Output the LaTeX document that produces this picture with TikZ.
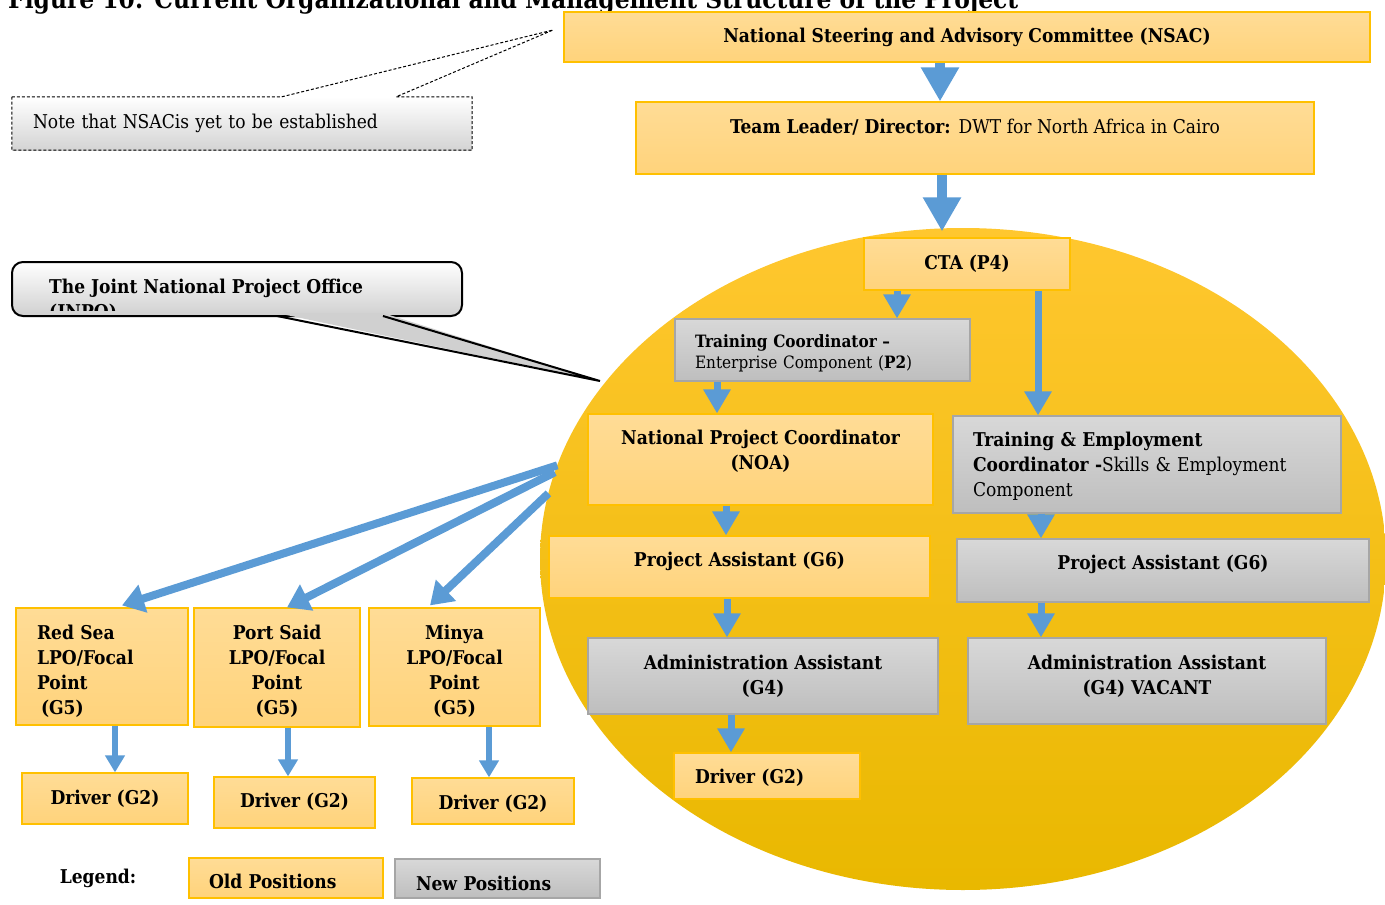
\documentclass[tikz,border=0pt]{standalone}
\usepackage{fontspec}
\setmainfont{DejaVu Serif Condensed}
\usetikzlibrary{arrows.meta,shapes.geometric}

\definecolor{oldtop}{HTML}{FFDC96}
\definecolor{oldbottom}{HTML}{FFD37B}
\definecolor{oldborder}{HTML}{FFC000}
\definecolor{newtop}{HTML}{D8D8D8}
\definecolor{newbottom}{HTML}{BEBEBE}
\definecolor{newborder}{HTML}{A6A6A6}
\definecolor{flowblue}{HTML}{5B9BD5}
\definecolor{areatop}{HTML}{FFC72F}
\definecolor{areamid}{HTML}{FBC400}
\definecolor{areabottom}{HTML}{E9B800}
\definecolor{calloutgray}{HTML}{D0D0D0}

\newcommand\orgfont{\fontsize{19}{25}\selectfont\bfseries}
\newcommand\smallorgfont{\fontsize{17}{21}\selectfont}
\newcommand\notefont{\fontsize{19}{22}\selectfont}
\newcommand\titlefont{\fontsize{26}{30}\selectfont\bfseries}
% invisible struts to move a block of lines down (topgap) or up (bottomgap)
\newcommand\topgap[1]{\rule{0pt}{#1}}
\newcommand\bottomgap[1]{\rule[-#1]{0pt}{#1}}

\tikzset{
  oldpos/.style={draw=oldborder, line width=1.2pt, top color=oldtop, bottom color=oldbottom,
    inner sep=0pt, font=\orgfont, align=center},
  newpos/.style={draw=newborder, line width=1.2pt, top color=newtop, bottom color=newbottom,
    inner sep=0pt, font=\orgfont, align=center},
  boxsize/.style 2 args={minimum width=#1, minimum height=#2},
  oneline/.style={text height=#1, text depth=0pt}, oneline/.default=10pt,
  raised/.style={text height=0pt, text depth=#1},
  padleft/.style 2 args={align=left, inner xsep=#1, text width=#2},
  flow/.style={draw=flowblue, line width=7pt, -{Triangle[length=24pt,width=26pt]}},
  bigflow/.style={draw=flowblue, line width=10pt, -{Triangle[length=34pt,width=36pt]}},
  sideflow/.style={draw=flowblue, line width=8pt, -{Triangle[length=22pt,width=28pt]}},
  dropflow/.style={draw=flowblue, line width=5.5pt, -{Triangle[length=17pt,width=19pt]}},
  jnpoarea/.style={ellipse, minimum width=846pt, minimum height=662pt, inner sep=0pt, outer sep=0pt,
    top color=areatop, middle color=areamid, bottom color=areabottom},
}

\begin{document}
\begin{tikzpicture}[x=1pt,y=-1pt]
\clip (0,0) rectangle (1385,905);

\node[anchor=base west, inner sep=0pt, font=\titlefont] (title) at (8,8)
  {Figure 10: Current Organizational and Management Structure of the Project};

% the project office area
\node[jnpoarea] (jnpo) at (963,559) {};

% note on the steering committee
\node[top color=white, bottom color=black!17, boxsize={460pt}{53pt}, padleft={21pt}{418pt},
  inner ysep=0pt, font=\notefont, oneline=9pt] (note) at (242,123.5) {Note that NSACis yet to be established};
\coordinate (notetip) at (553,30);
\draw[dash pattern=on 3pt off 2pt, line width=1pt] (note.north west) -- ++(270,0) -- (notetip)
  -- ([xshift=-76pt]note.north east) -- (note.north east) -- (note.south east) -- (note.south west) -- cycle;

% callout for the project office
\node[draw, line width=2pt, rounded corners=11pt, top color=white, bottom color=calloutgray,
  boxsize={450pt}{54pt}] (office) at (237,289) {};
\coordinate (officetip) at (600,381);
\fill[calloutgray] (277,313) -- (officetip) -- (383,313) -- cycle;
\draw[line width=2pt] (277,316) -- (officetip) -- (383,316);
\begin{scope}
  \clip (office.north west) rectangle ([yshift=7pt]office.south east);
  \node[anchor=north west, inner sep=0pt, font=\orgfont, align=left] (officetext) at (49,279)
    {The Joint National Project Office\\(JNPO)};
\end{scope}

% top of the structure
\node[oldpos, boxsize={806pt}{50pt}, oneline] (nsac) at (967,37) {National Steering and Advisory Committee (NSAC)};
\node[oldpos, boxsize={678pt}{72pt}, raised=10pt] (leader) at (975,138)
  {Team Leader/ Director: \mdseries DWT for North Africa in Cairo};
\node[oldpos, boxsize={206pt}{52pt}, oneline] (cta) at (967,264) {CTA (P4)};

% enterprise component
\node[newpos, boxsize={295pt}{62pt}, padleft={20pt}{255pt}, font=\smallorgfont] (trainco) at (822.5,350)
  {\topgap{20pt}\textbf{Training Coordinator –}\\Enterprise Component (\textbf{P2})};
\node[oldpos, boxsize={345pt}{91pt}] (npc) at (760.5,459.5) {National Project Coordinator\\(NOA)\bottomgap{20pt}};
\node[oldpos, boxsize={381pt}{62pt}, raised=2pt] (assistl) at (739.5,567) {Project Assistant (G6)};
\node[newpos, boxsize={350pt}{76pt}] (adminl) at (763,676) {Administration Assistant\\(G4)};
\node[oldpos, boxsize={186pt}{46pt}, padleft={21pt}{144pt}, oneline=14pt] (driverc) at (767,776) {Driver (G2)};

% skills and employment component
\node[newpos, boxsize={388pt}{97pt}, padleft={20pt}{348pt}] (employco) at (1147,464.5)
  {\topgap{18pt}Training \& Employment\\Coordinator -\mdseries Skills \& Employment\\Component};
\node[newpos, boxsize={412pt}{63pt}, raised=2pt] (assistr) at (1163,570.5) {Project Assistant (G6)};
\node[newpos, boxsize={358pt}{86pt}] (adminr) at (1147,681) {Administration Assistant\\(G4) VACANT\bottomgap{13pt}};

% local project offices
\node[oldpos, boxsize={172pt}{117pt}, padleft={21pt}{130pt}] (redsea) at (102,666.5)
  {\topgap{24pt}Red Sea\\LPO/Focal\\Point\\\hspace{4pt}(G5)};
\node[oldpos, boxsize={166pt}{119pt}] (portsaid) at (277,667.5) {\topgap{22pt}Port Said\\LPO/Focal\\Point\\(G5)};
\node[oldpos, boxsize={171pt}{118pt}] (minya) at (454.5,667) {\topgap{23pt}Minya\\LPO/Focal\\Point\\(G5)};
\node[oldpos, boxsize={166pt}{51pt}, oneline=11pt] (driver1) at (105,798.5) {Driver (G2)};
\node[oldpos, boxsize={161pt}{51pt}, oneline=9pt] (driver2) at (294.5,802.5) {Driver (G2)};
\node[oldpos, boxsize={162pt}{46pt}, oneline=16pt] (driver3) at (493,801) {Driver (G2)};

% legend
\node[font=\orgfont, inner sep=0pt, oneline=14pt] (legend) at (98,876) {Legend:};
\node[oldpos, boxsize={194pt}{40pt}, padleft={20pt}{154pt}, oneline=20pt] (oldkey) at (286,878) {Old Positions};
\node[newpos, boxsize={205pt}{39pt}, padleft={21pt}{163pt}, oneline=23pt] (newkey) at (497.5,878.5) {New Positions};

% arrows
\draw[bigflow] ([xshift=-27pt]nsac.south) -- ([xshift=-35pt]leader.north);
\draw[bigflow] ([xshift=-33pt]leader.south) -- ([xshift=-25pt,yshift=6pt]cta.north);
\draw[flow] ([xshift=-70pt]cta.south) -- ([xshift=74.5pt]trainco.north);
\draw[flow] ([xshift=71pt]cta.south) -- ([xshift=-109pt]employco.north);
\draw[flow] ([xshift=-105.5pt]trainco.south) -- ([xshift=-43.5pt]npc.north);
\draw[flow] ([xshift=-34.5pt]npc.south) -- ([xshift=-13.5pt]assistl.north);
\draw[flow] ([xshift=-106pt]employco.south) -- ([xshift=-122pt]assistr.north);
\draw[flow] ([xshift=-12.5pt]assistl.south) -- ([xshift=-36pt]adminl.north);
\draw[flow] ([xshift=-122pt]assistr.south) -- ([xshift=-106pt]adminr.north);
\draw[flow] ([xshift=-32pt]adminl.south) -- ([xshift=-36pt]driverc.north);
\draw[sideflow] (jnpo.167.4) -- ([xshift=20pt,yshift=2pt]redsea.north);
\draw[sideflow] (jnpo.168.8) -- ([xshift=10pt]portsaid.north);
\draw[sideflow] (jnpo.171) -- ([xshift=-24.5pt,yshift=2pt]minya.north);
\draw[dropflow] ([xshift=13pt]redsea.south) -- ([xshift=10pt]driver1.north);
\draw[dropflow] ([xshift=11pt]portsaid.south) -- ([xshift=-6.5pt]driver2.north);
\draw[dropflow] ([xshift=34.5pt]minya.south) -- ([xshift=-4pt]driver3.north);
\end{tikzpicture}
\end{document}
